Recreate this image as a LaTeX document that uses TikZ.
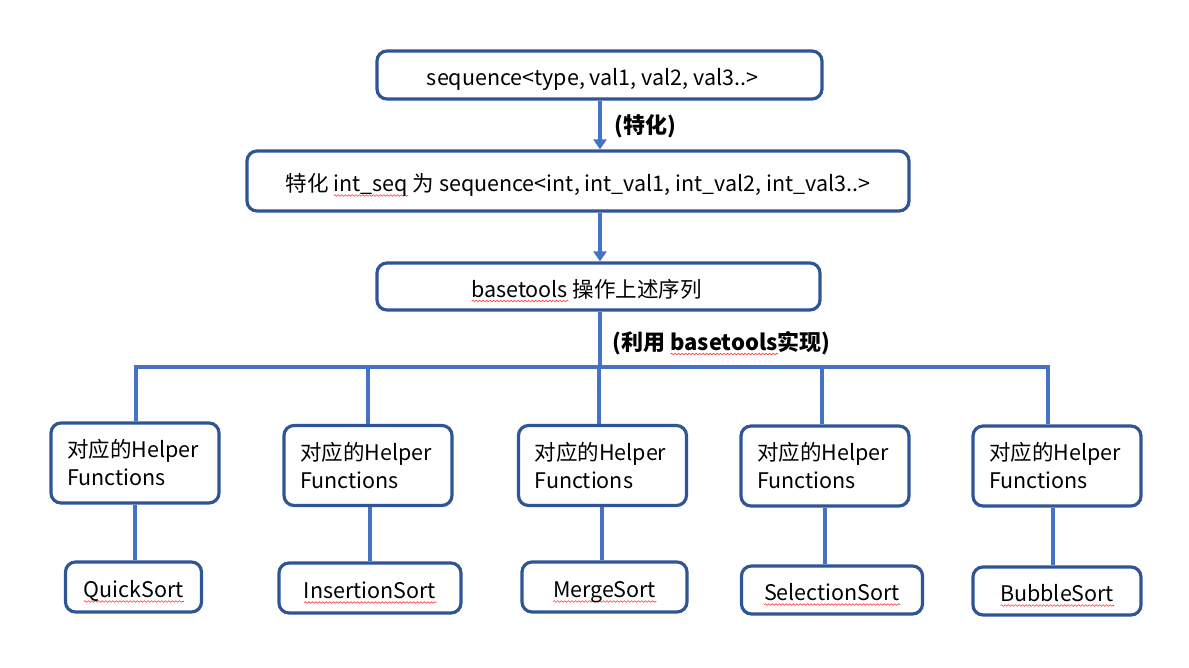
\documentclass[tikz,border=0pt]{standalone}
\usepackage{fontspec}
\setmainfont{Noto Sans CJK SC}
\usetikzlibrary{arrows.meta,decorations.pathmorphing}
\definecolor{boxblue}{HTML}{2F5597}
\definecolor{lineblue}{HTML}{4472C4}
\newlength\sqlen
\newcommand\squig[1]{\settowidth\sqlen{#1}\rlap{\tikz[baseline=0pt,x=1pt,y=1pt]\path[draw=red!80,fill=none,line width=0.6pt,rounded corners=0pt,decorate,decoration={snake,amplitude=0.8pt,segment length=3.5pt}] (0,-4) -- (\sqlen,-4);}#1}
\begin{document}
\begin{tikzpicture}[x=1pt,y=-1pt,
  every node/.style={font=\fontsize{21.5}{28}\selectfont},
  box/.style={draw=boxblue,line width=3.2pt,rounded corners=10pt,fill=white,inner sep=0pt,align=center},
  onebox/.style={box,text height=25pt,text depth=4pt},
  helper/.style={box,align=left,text width=136pt,inner xsep=16pt,minimum height=80pt},
  conn/.style={draw=lineblue,line width=3.2pt},
  arr/.style={conn,-{Triangle[width=13pt,length=10pt]}},
  lbl/.style={font=\fontsize{22}{28}\selectfont\bfseries,inner sep=0pt}]
\useasboundingbox (0,0) rectangle (1189,667);
% top boxes
\node[onebox,minimum width=445pt,minimum height=48pt] (t1) at (599.5,75) {sequence<type, val1, val2, val3..>\hspace{14pt}};
\node[onebox,minimum width=662pt,minimum height=60pt] (t2) at (578,181) {特化 \squig{int\_seq} 为 sequence<int, int\_val1, int\_val2, int\_val3..>};
\node[onebox,minimum width=443pt,minimum height=47pt] (t3) at (598.5,286.5) {\squig{basetools} 操作上述序列\hspace{24pt}};
% labels
\node[lbl] (l1) at (645,126) {(特化)};
\node[lbl] (l2) at (721.5,343) {(利用 \squig{basetools}实现)};
% helper boxes
\node[helper] (h1) at (135,463) {对应的Helper\\Functions};
\node[helper] (h2) at (368,465.5) {对应的Helper\\Functions};
\node[helper] (h3) at (602.5,465.5) {对应的Helper\\Functions};
\node[helper] (h4) at (825,466) {对应的Helper\\Functions};
\node[helper] (h5) at (1057,466) {对应的Helper\\Functions};
% sort boxes
\node[onebox,minimum width=136pt,minimum height=50pt] (s1) at (133.5,587) {\squig{QuickSort}};
\node[onebox,minimum width=182pt,minimum height=50pt] (s2) at (370,588) {\squig{InsertionSort}};
\node[onebox,minimum width=165pt,minimum height=50pt] (s3) at (604.5,587) {\squig{MergeSort}};
\node[onebox,minimum width=181pt,minimum height=48pt] (s4) at (832,590) {\squig{SelectionSort}};
\node[onebox,minimum width=168pt,minimum height=48pt] (s5) at (1057,591) {\squig{BubbleSort}};
% connectors
\coordinate (bus) at (600,367);
\draw[arr] ([xshift=0.5pt]t1.south) -- ([xshift=0.5pt]t1.south |- t2.north);
\draw[arr] ([xshift=22pt]t2.south) -- ([xshift=22pt]t2.south |- t3.north);
\draw[conn] ([xshift=1.5pt]t3.south) -- ([xshift=1.5pt]t3.south |- bus);
\draw[conn] ([xshift=1pt]h1.north) |- (bus) -| ([xshift=-9pt]h5.north);
\draw[conn] (h2.north) -- (h2.north |- bus);
\draw[conn] ([xshift=-3.5pt]h3.north) -- ([xshift=-3.5pt]h3.north |- bus);
\draw[conn] ([xshift=-3pt]h4.north) -- ([xshift=-3pt]h4.north |- bus);
\draw[conn] (h1.south) -- (h1.south |- s1.north);
\draw[conn] ([xshift=2pt]h2.south) -- ([xshift=2pt]h2.south |- s2.north);
\draw[conn] ([xshift=-0.5pt]h3.south) -- ([xshift=-0.5pt]h3.south |- s3.north);
\draw[conn] (h4.south) -- (h4.south |- s4.north);
\draw[conn] ([xshift=-4pt]h5.south) -- ([xshift=-4pt]h5.south |- s5.north);
\end{tikzpicture}
\end{document}
